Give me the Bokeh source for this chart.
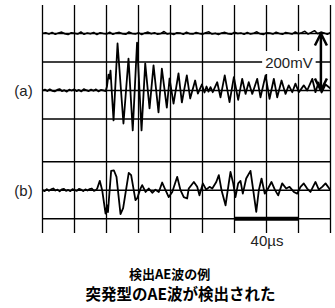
import numpy as np
from bokeh.plotting import figure
from bokeh.models import Range1d, Label, Arrow, OpenHead
from bokeh.embed import file_html
from bokeh.resources import INLINE

# ---- data (time in µs, voltage in mV) ----
grid_t = [0, 20, 40, 60, 80, 100, 120, 140, 160, 180]
grid_v = [200, 100, 0, -100, -250, -350, -450]

top_base = 200
top_dv = [0, 3, -2, 4, -3, 2, 5, -1, -4, 3, 1, -2, 6, -3, 2, -1, 4, -4, 3, 0,
          -2, 5, -3, 2, 4, -1, -3, 6, 0, -2, 3, -4, 2, 5, -1, 3, -3, 0, 7, -2,
          1, -4, 3, 2, -3, 5, -1, -2, 4, 0, -3, 3, 6, -2, 1, -4, 2, 4, -1, -3,
          5, 0, 2, -3, 4, -2, 1, 6, -1, -4, 3, 2, -2, 5, 0, -3, 4, 1, -2, 6,
          -1, 3, 8, -2, 4, 10, -1, 5, 2, -3, 4]

a_noise_v = [0, 3, -2, 4, -1, -3, 2, 5, -2, 1, -4, 3, 0, 4, -2, 2, -3, 5, 1, -2,
             3, -1, 4, -3, 2, 0, -2]
a_burst_t = [40.3, 41.25, 41.9, 42.5, 44.4, 46.9, 50.6, 53.75, 56.4, 59.1, 61.9,
             64.2, 66.9, 69.4, 72.5, 74.6, 77.7, 79.4, 81.9, 85.0, 87.1, 90.2,
             92.3, 95.4, 97.1, 99.6, 101.25, 102.5, 103.75, 105.0, 106.4, 109.2,
             111.25, 113.9, 116.9, 119.6, 122.3, 124.8, 126.9, 128.9, 131.1,
             134.2, 136.25, 139.4, 141.9, 144.6, 146.7, 149.4, 151.9, 153.9,
             156.1, 158.1, 160.2, 163.3, 165.4, 168.6, 170.6, 172.5, 174.4,
             176.9, 180.0]
a_burst_v = [14, 56, 42, 70, -105, 165, -116, 112, -140, 168, -140,
             95, -63, 88, -77, 77, -60, 42, -46, 60, -42, 53,
             -28, 35, -11, 21, -7, 14, -4, 12, -6, 29,
             -24, 53, -41, 47, -33, 41, -12, 29, -12,
             41, -24, 53, -29, 41, -24, 35, -12, 18,
             -6, 24, -6, 18, 0, 41, -6, 28, -7,
             21, 7]

b_base = -350
b_noise_v = [0, -3, 4, -2, 3, 6, -1, 2, -4, 3, 5, -2, 1, -3, 4, 0, -2, 5, 2, -3,
             3, -1, 4, 6, -2, 1]
b_burst_t = [34.2, 35.8, 37.3, 39.4, 40.4, 40.9, 42.9, 44.6, 46.25, 48.75, 50.4,
             53.9, 55.4, 58.1, 59.2, 61.25, 62.3, 64.4, 66.4, 68.6, 70.6, 72.7,
             74.8, 76.9, 78.9, 81.1, 84.2, 86.25, 88.3, 90.4, 91.4, 94.6, 96.7,
             98.1, 100.2, 102.3, 104.4, 106.1, 108.6, 110.2, 111.9, 114.4, 116.4,
             117.5, 119.2, 120.6, 122.3, 123.75, 125.2, 127.3, 130.0, 131.7,
             133.6, 135.2, 136.9, 138.9, 140.4, 143.1, 145.2, 147.3, 149.8,
             152.3, 154.4, 157.1, 159.2, 161.25, 163.3, 165.4, 167.5, 170.6,
             172.7, 174.8, 176.9, 180.0]
b_burst_v = [-344, -317, -350, -432, -403, -427, -282, -280, -303, -434, -413,
             -289, -297, -385, -378, -344, -332, -356, -344, -359, -348, -356,
             -323, -350, -374, -356, -303, -350, -374, -379, -344, -321, -338,
             -368, -326, -348, -338, -344, -321, -297, -350, -403, -326,
             -286, -326, -374, -326, -317, -362, -309, -282, -350,
             -426, -350, -309, -362, -350, -321, -348, -368, -326,
             -344, -338, -356, -362, -338, -326, -344, -356, -321,
             -348, -338, -326, -350]

scale_bar_t = [120, 160]
scale_bar_v = -450
arrow_v = [0, 200]
arrow_t = 174

title1 = "検出AE波の例"
title2 = "突発型のAE波が検出された"

# ---- figure ----
p = figure(width=335, height=308, output_backend="svg", toolbar_location=None,
           x_range=Range1d(-26.25, 183.125), y_range=Range1d(-765.0, 315.8),
           min_border=0, background_fill_color="white", border_fill_color="white")
p.axis.visible = False
p.grid.visible = False
p.outline_line_color = None

# grid
for t in grid_t:
    p.line([t, t], [-500, 300], line_color="black", line_width=1.3)
for v in grid_v:
    p.line([grid_t[0], grid_t[-1]], [v, v], line_color="black", line_width=1.3)

# traces
top_t = np.linspace(0, 180, len(top_dv))
p.line(top_t, np.array(top_dv) + top_base, line_color="black", line_width=1.5)

a_t = np.concatenate([np.linspace(0, 39.5, len(a_noise_v)), a_burst_t])
a_v = np.concatenate([a_noise_v, a_burst_v])
p.line(a_t, a_v, line_color="black", line_width=1.8, line_join="round")

b_t = np.concatenate([np.linspace(0, 33.5, len(b_noise_v)), b_burst_t])
b_v = np.concatenate([np.array(b_noise_v) + b_base, b_burst_v])
p.line(b_t, b_v, line_color="black", line_width=1.8, line_join="round")

# scale bar
p.line(scale_bar_t, [scale_bar_v, scale_bar_v], line_color="black", line_width=4,
       line_cap="butt")

# 200mV arrow
p.add_layout(Arrow(start=OpenHead(size=12, line_width=2.5), end=OpenHead(size=12, line_width=2.5),
                   x_start=arrow_t, y_start=arrow_v[0], x_end=arrow_t, y_end=arrow_v[1],
                   line_width=2.5, line_color="black"))

lab_font = "Liberation Sans"
p.add_layout(Label(x=154, y=98, text="200mV", text_font=lab_font, text_font_size="15px",
                   text_color="#222222", text_align="center", text_baseline="alphabetic",
                   background_fill_color="white", padding=3))
p.add_layout(Label(x=-11.9, y=0, text="(a)", text_font=lab_font, text_font_size="15px",
                   text_color="#222222", text_align="center", text_baseline="middle"))
p.add_layout(Label(x=-11.9, y=-350, text="(b)", text_font=lab_font, text_font_size="15px",
                   text_color="#222222", text_align="center", text_baseline="middle"))
p.add_layout(Label(x=140.3, y=-526, text="40µs", text_font=lab_font, text_font_size="15px",
                   text_color="#222222", text_align="center", text_baseline="alphabetic"))

cjk = "Noto Sans CJK JP"
p.add_layout(Label(x=79.4, y=-642, text=title1, text_font=cjk, text_font_size="13px",
                   text_font_style="bold", text_color="black", text_align="center",
                   text_baseline="middle"))
p.add_layout(Label(x=86.25, y=-709, text=title2, text_font=cjk, text_font_size="15.5px",
                   text_font_style="bold", text_color="black", text_align="center",
                   text_baseline="middle"))

open("out.html", "w").write(file_html(p, INLINE))
